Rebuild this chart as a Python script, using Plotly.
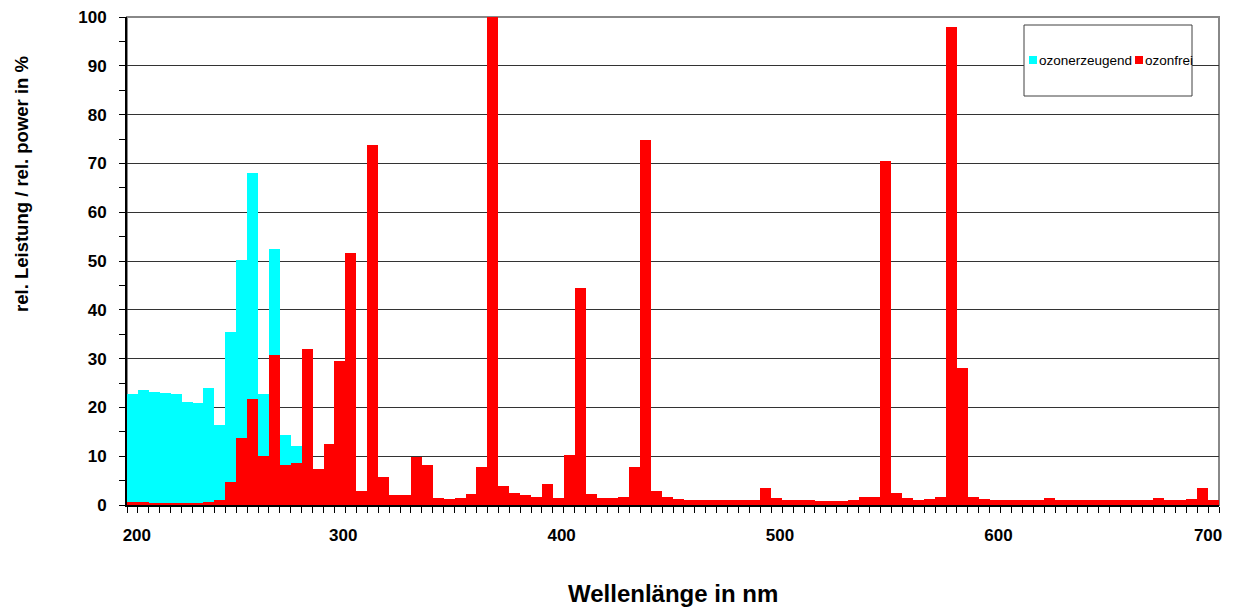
import plotly.graph_objects as go

# wavelength bins (nm), 5 nm wide, starting at 200 nm
wavelength_start = [200, 205, 210, 215, 220, 225, 230, 235, 240, 245,
                    250, 255, 260, 265, 270, 275, 280, 285, 290, 295,
                    300, 305, 310, 315, 320, 325, 330, 335, 340, 345,
                    350, 355, 360, 365, 370, 375, 380, 385, 390, 395,
                    400, 405, 410, 415, 420, 425, 430, 435, 440, 445,
                    450, 455, 460, 465, 470, 475, 480, 485, 490, 495,
                    500, 505, 510, 515, 520, 525, 530, 535, 540, 545,
                    550, 555, 560, 565, 570, 575, 580, 585, 590, 595,
                    600, 605, 610, 615, 620, 625, 630, 635, 640, 645,
                    650, 655, 660, 665, 670, 675, 680, 685, 690, 695]

ozonfrei = [0.6, 0.6, 0.5, 0.5, 0.4, 0.3, 0.4, 0.6, 1.0, 4.7,
            13.7, 21.8, 10.0, 30.8, 8.3, 8.6, 32.0, 7.3, 12.5, 29.5,
            51.6, 2.9, 73.7, 5.7, 2.0, 2.1, 9.8, 8.2, 1.5, 1.3,
            1.4, 2.2, 7.8, 100.0, 3.8, 2.5, 2.1, 1.7, 4.4, 1.4,
            10.3, 44.5, 2.2, 1.4, 1.4, 1.7, 7.8, 74.7, 2.8, 1.7,
            1.2, 1.0, 0.95, 1.0, 1.0, 1.0, 1.0, 1.1, 3.4, 1.5,
            1.0, 1.0, 1.0, 0.9, 0.9, 0.9, 1.1, 1.6, 1.7, 70.5,
            2.5, 1.4, 1.1, 1.3, 1.7, 97.9, 28.0, 1.7, 1.2, 1.0,
            1.0, 1.1, 1.1, 1.0, 1.4, 1.0, 1.0, 1.0, 1.05, 1.05,
            1.05, 1.0, 1.0, 1.05, 1.4, 1.05, 1.1, 1.2, 3.4, 1.1]

ozonerzeugend = [22.7, 23.5, 23.1, 23.0, 22.7, 21.1, 20.9, 24.0, 16.3, 35.5,
                 50.2, 68.0, 22.7, 52.5, 14.4, 12.1, 32.0, 7.3, 12.5, 29.5,
                 51.6, 2.9, 73.7, 5.7, 2.0, 2.1, 9.8, 8.2, 1.5, 1.3,
                 1.4, 2.2, 7.8, 100.0, 3.8, 2.5, 2.1, 1.7, 4.4, 1.4,
                 10.3, 44.5, 2.2, 1.4, 1.4, 1.7, 7.8, 74.7, 2.8, 1.7,
                 1.2, 1.0, 0.95, 1.0, 1.0, 1.0, 1.0, 1.1, 3.4, 1.5,
                 1.0, 1.0, 1.0, 0.9, 0.9, 0.9, 1.1, 1.6, 1.7, 70.5,
                 2.5, 1.4, 1.1, 1.3, 1.7, 97.9, 28.0, 1.7, 1.2, 1.0,
                 1.0, 1.1, 1.1, 1.0, 1.4, 1.0, 1.0, 1.0, 1.05, 1.05,
                 1.05, 1.0, 1.0, 1.05, 1.4, 1.05, 1.1, 1.2, 3.4, 1.1]

bin_width = 5
x_tick_labels = ["200", "300", "400", "500", "600", "700"]
# label anchor positions (end labels pulled inward as in the original)
x_label_pos = [204.5, 299, 399, 499, 599, 695]
y_ticks = [0, 10, 20, 30, 40, 50, 60, 70, 80, 90, 100]
series_names = ["ozonerzeugend", "ozonfrei"]
series_colors = ["#00FFFF", "#FF0000"]

FONT = "Liberation Sans, Arial, sans-serif"
W, H = 1250, 611
L, R, T, B = 127, 31, 17, 106  # plot area in px

def px_x(px):
    return (px - L) / (W - L - R)

def px_y(py):
    return (H - B - py) / (H - T - B)

fig = go.Figure()
centers = [w + bin_width / 2 for w in wavelength_start]
for name, vals, col in zip(series_names, [ozonerzeugend, ozonfrei], series_colors):
    fig.add_trace(go.Bar(x=centers, y=vals, width=bin_width, name=name,
                         marker=dict(color=col, line=dict(width=0)),
                         showlegend=False))
# empty helper trace so the label axis is drawn
fig.add_trace(go.Scatter(x=[], y=[], xaxis="x2", yaxis="y", showlegend=False,
                         hoverinfo="skip"))

shapes = [
    dict(type="rect", xref="paper", yref="paper", x0=0, x1=1, y0=0, y1=1,
         line=dict(color="#888888", width=2), layer="below"),
    dict(type="rect", xref="paper", yref="paper",
         x0=px_x(1024), x1=px_x(1192), y0=px_y(96), y1=px_y(25),
         line=dict(color="#404040", width=1), fillcolor="white", layer="above"),
    dict(type="rect", xref="paper", yref="paper",
         x0=px_x(1029), x1=px_x(1037), y0=px_y(64), y1=px_y(56),
         line=dict(width=0), fillcolor=series_colors[0], layer="above"),
    dict(type="rect", xref="paper", yref="paper",
         x0=px_x(1135), x1=px_x(1143), y0=px_y(64), y1=px_y(56),
         line=dict(width=0), fillcolor=series_colors[1], layer="above"),
]

annotations = [
    dict(text=series_names[0], xref="paper", yref="paper", x=px_x(1036.5), y=px_y(60),
         xanchor="left", yanchor="middle", showarrow=False,
         font=dict(family=FONT, size=13.5, color="black")),
    dict(text=series_names[1], xref="paper", yref="paper", x=px_x(1142.5), y=px_y(60),
         xanchor="left", yanchor="middle", showarrow=False,
         font=dict(family=FONT, size=13.5, color="black")),
    dict(text="<b>rel. Leistung / rel. power in %</b>", xref="paper", yref="paper",
         x=px_x(22), y=px_y(184), xanchor="center", yanchor="middle",
         textangle=-90, showarrow=False,
         font=dict(family=FONT, size=18.5, color="black")),
    dict(text="<b>Wellenlänge in nm</b>", xref="paper", yref="paper",
         x=px_x(673), y=px_y(593), xanchor="center", yanchor="middle",
         showarrow=False, font=dict(family=FONT, size=24, color="black")),
]

fig.update_layout(
    width=W, height=H,
    margin=dict(l=L, r=R, t=T, b=B, autoexpand=False),
    paper_bgcolor="white", plot_bgcolor="white",
    barmode="overlay", bargap=0,
    shapes=shapes, annotations=annotations,
    font=dict(family=FONT, color="black"),
    xaxis=dict(
        range=[200, 700], tickmode="linear", tick0=200, dtick=bin_width,
        showticklabels=False,
        ticks="outside", ticklen=6, tickcolor="black", tickwidth=1,
        showline=True, linecolor="black", linewidth=2, showgrid=False, zeroline=False,
        automargin=False,
    ),
    xaxis2=dict(
        overlaying="x", anchor="y", side="bottom", range=[200, 700],
        tickvals=x_label_pos, ticktext=x_tick_labels, ticks="",
        showline=False, showgrid=False, zeroline=False,
        tickfont=dict(family=FONT, size=17, color="black", weight="bold"),
        ticklabelstandoff=18, automargin=False,
    ),
    yaxis=dict(
        range=[0, 100], tickvals=y_ticks, ticktext=[str(v) for v in y_ticks],
        ticks="outside", ticklen=6, tickcolor="black", tickwidth=1,
        minor=dict(dtick=5, tick0=0, ticks="outside", ticklen=6, tickcolor="black",
                   showgrid=False),
        showline=True, linecolor="black", linewidth=2,
        showgrid=True, gridcolor="#333333", gridwidth=1, zeroline=False,
        tickfont=dict(family=FONT, size=17, color="black", weight="bold"),
        ticklabelstandoff=9, automargin=False,
    ),
)

fig.write_html("out.html")
